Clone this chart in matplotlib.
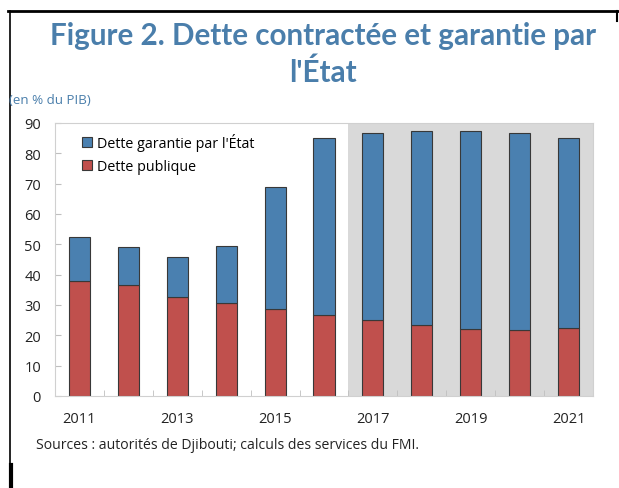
import numpy as np
import matplotlib
matplotlib.use("Agg")
import matplotlib.pyplot as plt
from matplotlib.lines import Line2D

# données (en % du PIB)
years = [2011, 2012, 2013, 2014, 2015, 2016, 2017, 2018, 2019, 2020, 2021]
dette_publique = [37.9, 36.7, 32.8, 30.8, 28.7, 26.8, 25.0, 23.5, 22.2, 21.9, 22.4]
dette_totale = [52.4, 49.1, 45.7, 49.3, 69.0, 84.9, 86.8, 87.5, 87.5, 86.8, 84.9]
dette_garantie = [t - p for t, p in zip(dette_totale, dette_publique)]
year_labels = ["2011", "", "2013", "", "2015", "", "2017", "", "2019", "", "2021"]
first_proj = 2017

blue = "#4a80b0"
red = "#c0504d"
title_col = "#4a7eab"

plt.rcParams["font.family"] = ["Open Sans", "DejaVu Sans"]

fig = plt.figure(figsize=(6.19, 4.89), dpi=100)
ax = fig.add_axes([55 / 619, 1 - 397 / 489, 538 / 619, 273 / 489])

x = np.arange(len(years))
ax.axvspan(years.index(first_proj) - 0.5, len(years) - 0.5, color="#d9d9d9", lw=0, zorder=0)

ax.bar(x, dette_publique, width=0.43, color=red, edgecolor="#383838", lw=0.8,
       label="Dette publique", zorder=2)
ax.bar(x, dette_garantie, width=0.43, bottom=dette_publique, color=blue,
       edgecolor="#383838", lw=0.8, label="Dette garantie par l'État", zorder=2)

ax.set_xlim(-0.5, len(years) - 0.5)
ax.set_ylim(0, 90)
ax.set_yticks(range(0, 91, 10))
ax.set_xticks(x)
ax.set_xticklabels(year_labels)
ax.set_xticks(x[:-1] + 0.5, minor=True)
ax.tick_params(axis="x", which="major", length=0, pad=11, labelsize=10.5, colors="#222222")
ax.tick_params(axis="x", which="minor", direction="in", length=4, color="#bfbfbf")
ax.tick_params(axis="y", direction="in", length=4, color="#bfbfbf", pad=10,
               labelsize=10.5, labelcolor="#222222")
for sp in ax.spines.values():
    sp.set_color("#d0d0d0")
    sp.set_linewidth(0.8)

handles, labels = ax.get_legend_handles_labels()
leg = ax.legend(handles[::-1], labels[::-1], loc="upper left", bbox_to_anchor=(0.04, 0.985),
                frameon=False, fontsize=10.3, handlelength=0.7, handleheight=0.7,
                handletextpad=0.3, labelspacing=0.55, borderaxespad=0)

title_font = ["Lato", "DejaVu Sans"]
fig.text(0.522, 1 - 36 / 489, "Figure 2. Dette contractée et garantie par", ha="center",
         va="center", fontsize=21.3, fontweight="bold", color=title_col, family=title_font)
fig.text(0.522, 1 - 73 / 489, "l'État", ha="center", va="center", fontsize=21.3,
         fontweight="bold", color=title_col, family=title_font)
fig.text(9 / 619, 1 - 100 / 489, "(en % du PIB)", ha="left", va="center", fontsize=9.6,
         color="#4a7eab")
fig.text(36 / 619, 1 - 446 / 489, "Sources : autorités de Djibouti; calculs des services du FMI.",
         ha="left", va="center", fontsize=10.1, color="#222222")

# cadre noir autour
fig.add_artist(Line2D([8 / 619, 1], [1 - 12 / 489] * 2, color="black", lw=2))
fig.add_artist(Line2D([9.5 / 619] * 2, [1 - 12 / 489, 1 - 466 / 489], color="black", lw=1.2))
fig.add_artist(Line2D([11 / 619] * 2, [1 - 466 / 489, 0], color="black", lw=3))
fig.add_artist(Line2D([617 / 619] * 2, [1 - 12 / 489, 1 - 22 / 489], color="black", lw=1.5))

fig.savefig("out.png", dpi=100)
